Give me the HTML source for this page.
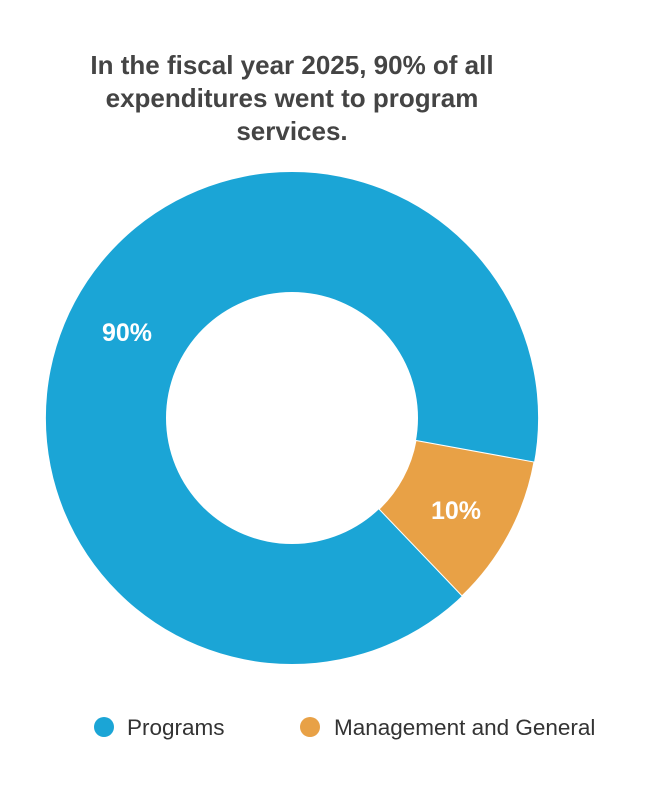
<!DOCTYPE html>
<html><head><meta charset="utf-8"><style>
html,body{margin:0;padding:0;background:#fff;}
svg{display:block;}
</style></head><body>
<svg width="646" height="800" viewBox="0 0 646 800" xmlns="http://www.w3.org/2000/svg">
<g font-family="Liberation Sans, Arial, sans-serif" font-weight="bold" font-size="26" fill="#444" text-anchor="middle">
<text x="292" y="74">In the fiscal year 2025, 90% of all</text>
<text x="292" y="107">expenditures went to program</text>
<text x="292" y="140">services.</text>
</g>
<path fill-rule="evenodd" fill="#1BA5D6" d="M292,172 A246,246 0 1,1 292,664 A246,246 0 1,1 292,172 Z M292,292 A126,126 0 1,0 292,544 A126,126 0 1,0 292,292 Z"/>
<path fill="#E8A146" stroke="#fff" stroke-width="1" d="M534,462 A246,246 0 0,1 462,595.9 L379.1,509.1 A126,126 0 0,0 416,440.5 Z"/>
<g font-family="Liberation Sans, Arial, sans-serif" font-weight="bold" font-size="25" fill="#fff" text-anchor="middle">
<text x="127" y="341">90%</text>
<text x="456" y="519">10%</text>
</g>
<circle cx="104" cy="727" r="10" fill="#1BA5D6"/>
<circle cx="310" cy="727" r="10" fill="#E8A146"/>
<g font-family="Liberation Sans, Arial, sans-serif" font-size="22.5" fill="#333">
<text x="127" y="735">Programs</text>
<text x="334" y="735">Management and General</text>
</g>
</svg>
</body></html>
